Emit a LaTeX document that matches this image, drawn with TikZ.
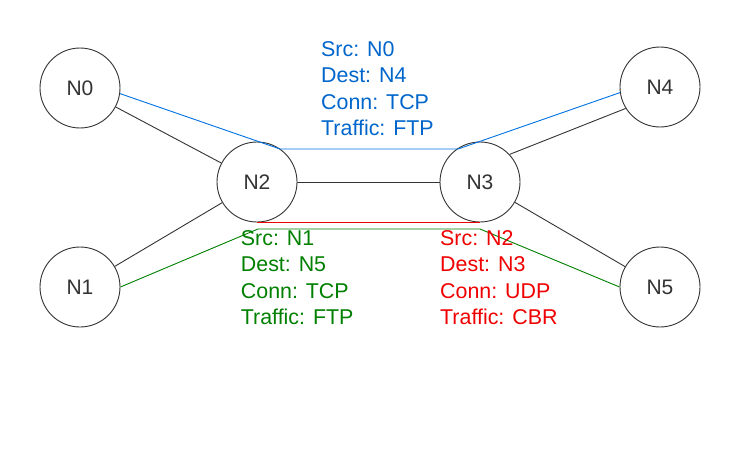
\documentclass[tikz,border=0pt]{standalone}
\usepackage{fontspec}
\setmainfont{Liberation Sans}
\definecolor{nodegray}{RGB}{51,51,51}
\definecolor{linegray}{RGB}{51,51,51}
\definecolor{bluetext}{RGB}{0,102,204}
\definecolor{blueline}{RGB}{0,114,227}
\definecolor{greentext}{RGB}{0,128,0}
\definecolor{redtext}{RGB}{240,0,0}
\begin{document}
\begin{tikzpicture}[x=1pt,y=-1pt,
  netnode/.style={circle,draw=nodegray,line width=0.9pt,minimum size=80pt,inner sep=0pt,text=nodegray,font=\fontsize{21}{25}\selectfont},
  link/.style={draw=linegray,line width=0.9pt},
  flow/.style={line width=0.9pt},
  info/.style={anchor=north west,inner sep=0pt,align=left,font=\fontsize{21.4}{26.5}\selectfont},
]
\fill[white] (0,0) rectangle (740,452);
\useasboundingbox (0,0) rectangle (740,452);

\node[netnode] (N0) at (80,88) {N0};
\node[netnode] (N1) at (80,287) {N1};
\node[netnode] (N2) at (257,182) {N2};
\node[netnode] (N3) at (480,182) {N3};
\node[netnode] (N4) at (660,87) {N4};
\node[netnode] (N5) at (660,287) {N5};

\draw[link] (N0) -- (N2);
\draw[link] (N1) -- (N2);
\draw[link] (N2) -- (N3);
\draw[link] (N3.43) -- (N4.212);
\draw[link] (N3) -- (N5);

\coordinate (b1) at (280,149);
\coordinate (b2) at (458,149);
\draw[flow,blueline] (N0.-8) -- (b1) -- (b2) -- (N4.188);

\coordinate (g1) at (258,229);
\coordinate (g2) at (480,229);
\draw[flow,greentext] (N1.east) -- (g1) -- (g2) -- (N5.west);

\draw[flow,redtext] (N2.south) -- (N3.south);

\node[info,text=bluetext] (tb) at (321,41.3) {Src: N0\\Dest: N4\\Conn: TCP\\Traffic: FTP};
\node[info,text=greentext] (tg) at (240.7,230.3) {Src: N1\\Dest: N5\\Conn: TCP\\Traffic: FTP};
\node[info,text=redtext] (tr) at (440,230.3) {Src: N2\\Dest: N3\\Conn: UDP\\Traffic: CBR};
\end{tikzpicture}
\end{document}
